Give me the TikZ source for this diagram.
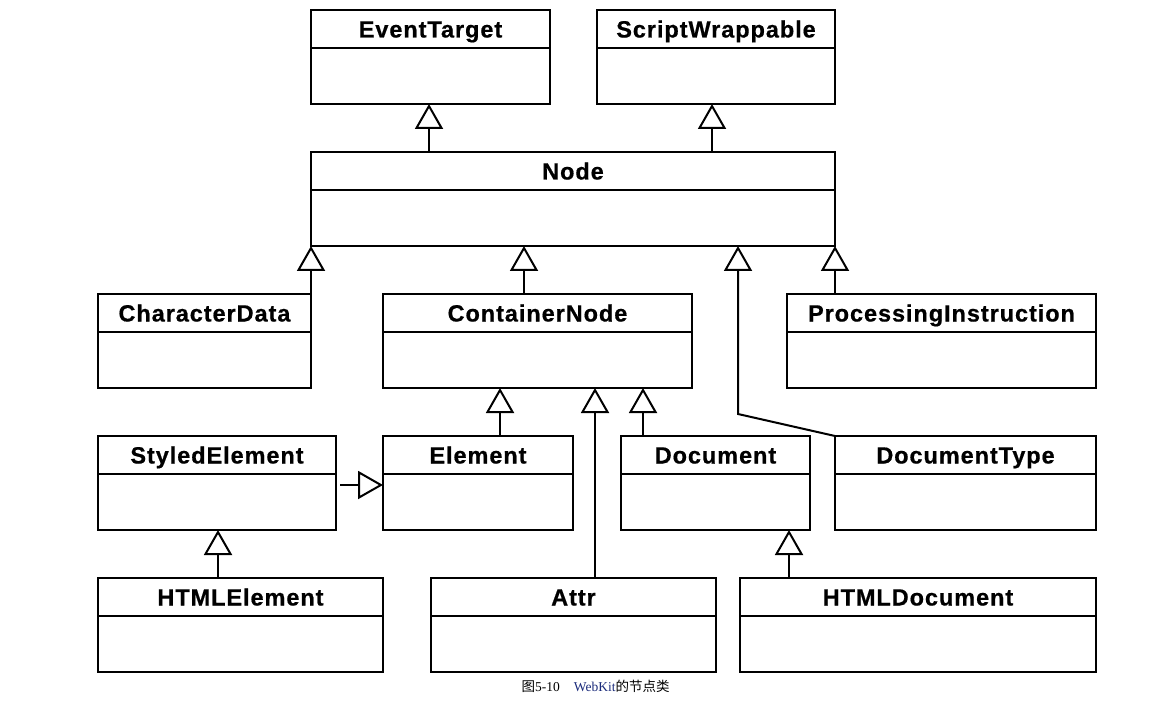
\documentclass[tikz,border=0pt]{standalone}
\usepackage{fontspec}
\usetikzlibrary{arrows.meta}
\newfontfamily\umlfont[LetterSpace=4, BoldFeatures={FakeBold=0.6}]{Liberation Sans}
\newfontfamily\capserif{Liberation Serif}
\newfontfamily\capcjk{Noto Sans CJK SC}
\definecolor{capblue}{HTML}{1A2A7A}

\tikzset{
  classbox/.style={draw, line width=2pt, rectangle, inner sep=0pt, outer sep=0pt, minimum height=94pt},
  classline/.style={line width=2pt},
  classtitle/.style={anchor=base, inner sep=0pt, font=\umlfont\bfseries\fontsize{23.5}{28}\selectfont},
  gen/.style={line width=2pt, -{Triangle[open, fill=white, length=25pt, width=28pt]}},
}

% class box: id, left, top, width, title
\newcommand{\umlclass}[5]{%
  \node[classbox, minimum width=#4pt, anchor=north west] (#1) at (#2,#3) {};
  \draw[classline] ([yshift=-38pt]#1.north west) -- ([yshift=-38pt]#1.north east);
  \node[classtitle] (#1-title) at ([yshift=-27.5pt]#1.north) {#5};
}

\begin{document}
\begin{tikzpicture}[x=1pt, y=-1pt]
\useasboundingbox (0,0) rectangle (1172,703);

\umlclass{et}{311}{10}{239}{EventTarget}
\umlclass{sw}{597}{10}{238}{ScriptWrappable}
\umlclass{nd}{311}{152}{524}{Node}
\umlclass{cd}{98}{294}{213}{CharacterData}
\umlclass{cn}{383}{294}{309}{ContainerNode}
\umlclass{pi}{787}{294}{309}{ProcessingInstruction}
\umlclass{se}{98}{436}{238}{StyledElement}
\umlclass{el}{383}{436}{190}{Element}
\umlclass{doc}{621}{436}{189}{Document}
\umlclass{dt}{835}{436}{261}{DocumentType}
\umlclass{he}{98}{578}{285}{HTMLElement}
\umlclass{at}{431}{578}{285}{Attr}
\umlclass{hd}{740}{578}{356}{HTMLDocument}

% generalisations
\draw[gen] ([xshift=118pt]nd.north west) -- ([xshift=118pt]et.south west);
\draw[gen] ([xshift=401pt]nd.north west) -- ([xshift=115pt]sw.south west);
\draw[gen] (cd.north east) -- (nd.south west);
\draw[gen] ([xshift=141pt]cn.north west) -- ([xshift=213pt]nd.south west);
\draw[gen] (dt.north west) -- ([xshift=-97pt,yshift=22pt]dt.north west)
           -- ([xshift=427pt]nd.south west);
\draw[gen] ([xshift=48pt]pi.north west) -- (nd.south east);
\draw[gen] ([xshift=117pt]el.north west) -- ([xshift=117pt]cn.south west);
\draw[gen] ([xshift=164pt]at.north west) -- ([xshift=212pt]cn.south west);
\draw[gen] ([xshift=22pt]doc.north west) -- ([xshift=260pt]cn.south west);
\draw[gen] ([xshift=4pt,yshift=-2pt]se.east) -- ([yshift=-2pt]el.west);
\draw[gen] ([xshift=120pt]he.north west) -- ([xshift=120pt]se.south west);
\draw[gen] ([xshift=49pt]hd.north west) -- ([xshift=168pt]doc.south west);

% figure caption
\node[anchor=base west, inner sep=0pt, font=\fontsize{13.5}{16}\selectfont] (cap) at (521.5,691.5)
  {\capcjk 图\capserif 5-10\hspace{14pt}{\color{capblue}WebKit}\capcjk 的节点类};
\end{tikzpicture}
\end{document}
